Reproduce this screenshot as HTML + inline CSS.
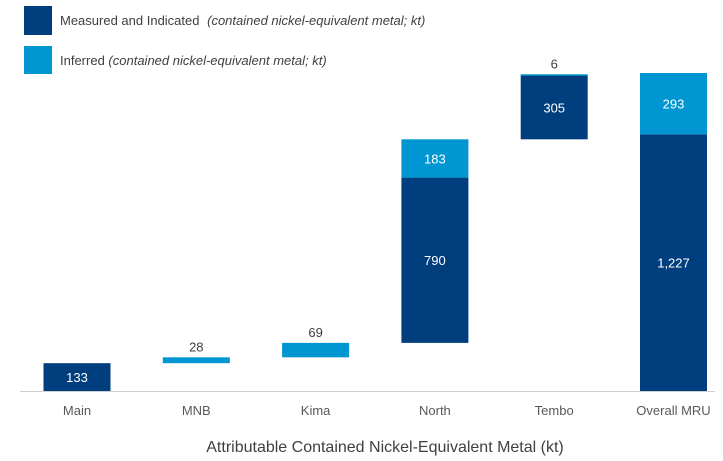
<!DOCTYPE html>
<html><head><meta charset="utf-8"><style>
body{margin:0;background:#fff;}
svg{display:block;font-family:"Liberation Sans",Arial,sans-serif;}
</style></head><body>
<svg id="chart" width="723" height="461">
<rect x="24" y="6" width="28" height="29" fill="#003e7e"/>
<text x="60" y="25" font-size="13" fill="#404040">Measured and  Indicated <tspan font-style="italic" dx="4">(contained nickel-equivalent metal; kt)</tspan></text>
<rect x="24" y="46" width="28" height="28" fill="#0096d2"/>
<text x="60" y="65" font-size="13" fill="#404040">Inferred <tspan font-style="italic">(contained nickel-equivalent metal; kt)</tspan></text>
<line x1="20" x2="715" y1="391.5" y2="391.5" stroke="#d0d0d0"/>
<text x="385" y="452" font-size="16" fill="#404040" text-anchor="middle">Attributable Contained Nickel-Equivalent Metal (kt)</text>
<g id="marks"></g>
</svg>
<script>
const categories=["Main","MNB","Kima","North","Tembo","Overall MRU"];
const measured=[133,0,0,790,305,1227];
const inferred=[0,28,69,183,6,293];
const isTotal=[false,false,false,false,false,true];
const NS="http://www.w3.org/2000/svg";
const g=document.getElementById("marks");
const baseY=391, topY=73;
const maxV=measured[5]+inferred[5];
function y(v){return baseY-(v/maxV)*(baseY-topY);}
function xc(i){return 77+i*119.3;}
const bw=67;
function mk(tag,attrs){const e=document.createElementNS(NS,tag);for(const k in attrs)e.setAttribute(k,attrs[k]);g.appendChild(e);return e;}
let cum=0;
categories.forEach((c,i)=>{
  let start=isTotal[i]?0:cum;
  const m=measured[i], n=inferred[i];
  const cx=xc(i);
  const lab=mk("text",{x:cx,y:415,"font-size":13,fill:"#595959","text-anchor":"middle"});
  lab.textContent=c;
  
  
  if(m>0){
    const r=mk("rect",{x:cx-bw/2,y:y(start+m),width:bw,height:y(start)-y(start+m),fill:"#003e7e"});
    
    
    const t=mk("text",{x:cx,y:(y(start)+y(start+m))/2+5,"font-size":13,fill:"#fff","text-anchor":"middle"});
    t.textContent=m.toLocaleString("en-US");
    
    
  }
  const s2=start+m;
  if(n>0){
    const h=y(s2)-y(s2+n);
    const r=mk("rect",{x:cx-bw/2,y:y(s2+n),width:bw,height:Math.max(h,1.5),fill:"#0096d2"});
    
    
    let t;
    if(h>30){t=mk("text",{x:cx,y:(y(s2)+y(s2+n))/2+5,"font-size":13,fill:"#fff","text-anchor":"middle"});}
    else{t=mk("text",{x:cx,y:y(s2+n)-6,"font-size":13,fill:"#404040","text-anchor":"middle"});}
    t.textContent=n.toLocaleString("en-US");
    
    
  }
  if(!isTotal[i])cum=s2+n;
});
</script>
</body></html>
